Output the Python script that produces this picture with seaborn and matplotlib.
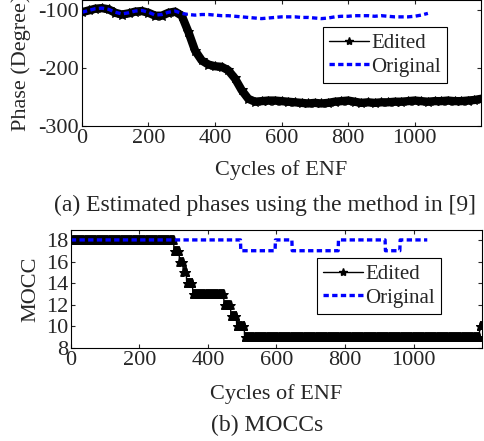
import numpy as np
import pandas as pd
import matplotlib
matplotlib.use('Agg')
import matplotlib.pyplot as plt
import seaborn as sns
from matplotlib.lines import Line2D

# (a) estimated phases, sampled every 20 cycles
phase_cycles_edited = list(range(0, 1201, 20))
phase_edited = [-104, -101, -98, -97, -99, -105, -108, -106, -103, -102,
                -105, -110, -110, -105, -103, -110, -138, -170, -187, -194,
                -197, -198, -204, -218, -238, -253, -258, -257, -256, -256,
                -257, -258, -259, -260, -261, -260, -261, -260, -258, -257,
                -256, -258, -260, -259, -260, -259, -259, -258, -258, -257,
                -256, -257, -258, -257, -257, -256, -257, -257, -256, -255,
                -253]
phase_cycles_original = list(range(0, 1041, 20))
phase_original = [-104, -101, -98, -97, -99, -104, -107, -105, -102, -101,
                  -104, -109, -108, -104, -102, -106, -108, -109, -108, -108,
                  -109, -110, -110, -111, -112, -113, -114, -115, -114, -113,
                  -112, -112, -112, -113, -113, -114, -115, -114, -112, -111,
                  -111, -110, -110, -110, -111, -110, -111, -112, -112, -112,
                  -111, -109, -106]

# (b) MOCC values, one per cycle, given as levels and run lengths
mocc_edited_levels = [18, 17, 16, 15, 14, 13, 12, 11, 10, 9, 10]
mocc_edited_runs = [301, 16, 11, 10, 18, 91, 20, 17, 23, 686, 8]
mocc_original_levels = [18, 17, 18, 17, 18, 17, 18]
mocc_original_runs = [496, 101, 49, 135, 137, 43, 80]

mocc_edited = np.repeat(mocc_edited_levels, mocc_edited_runs)
mocc_original = np.repeat(mocc_original_levels, mocc_original_runs)

sns.set_style("ticks")
plt.rcParams['font.family'] = ['Liberation Serif', 'DejaVu Serif']
plt.rcParams['axes.unicode_minus'] = False
plt.rcParams['xtick.direction'] = 'in'
plt.rcParams['ytick.direction'] = 'in'
plt.rcParams['xtick.top'] = True
plt.rcParams['ytick.right'] = True

fig = plt.figure(figsize=(4.85, 4.41), dpi=100)
ax1 = fig.add_axes([0.169, 0.714, 0.823, 0.286])
ax2 = fig.add_axes([0.146, 0.211, 0.848, 0.267])

blue = '#0000ff'
tick_fs = 16
label_fs = 16
legend_fs = 15
caption_fs = 17
dots = (0, (1.6, 1.0))

# top panel
sns.lineplot(x=phase_cycles_edited, y=phase_edited, ax=ax1, color='black',
             lw=6, marker='*', markersize=7, markeredgecolor='black')
sns.lineplot(x=phase_cycles_original, y=phase_original, ax=ax1, color=blue,
             lw=2.4, linestyle=dots)
ax1.set_xlim(0, 1200)
ax1.set_ylim(-300, -83)
ax1.set_xticks([0, 200, 400, 600, 800, 1000])
ax1.set_yticks([-300, -200, -100])
ax1.set_xlabel('Cycles of ENF', fontsize=label_fs, labelpad=9)
ax1.set_ylabel('Phase (Degree)', fontsize=label_fs, labelpad=5)

# bottom panel
sns.lineplot(x=np.arange(len(mocc_edited)), y=mocc_edited, ax=ax2,
             color='black', lw=1, marker='*', markersize=6.5,
             markeredgecolor='black', markeredgewidth=0.6)
sns.lineplot(x=np.arange(len(mocc_original)), y=mocc_original, ax=ax2,
             color=blue, lw=2.4, linestyle=dots)
ax2.set_xlim(0, 1200)
ax2.set_ylim(8, 18.9)
ax2.set_xticks([0, 200, 400, 600, 800, 1000])
ax2.set_yticks([8, 10, 12, 14, 16, 18])
ax2.set_xlabel('Cycles of ENF', fontsize=label_fs, labelpad=10)
ax2.set_ylabel('MOCC', fontsize=label_fs, labelpad=4)

handles = [Line2D([], [], color='black', lw=1, marker='*', markersize=6),
           Line2D([], [], color=blue, lw=2.4, linestyle=dots)]
for ax, anchor in [(ax1, (0.604, 0.786)), (ax2, (0.599, 0.763))]:
    ax.tick_params(labelsize=tick_fs, length=3, width=0.8, pad=2)
    for s in ax.spines.values():
        s.set_linewidth(0.8)
        s.set_color('black')
    leg = ax.legend(handles, ['Edited', 'Original'], loc='upper left',
                    bbox_to_anchor=anchor, fontsize=legend_fs, fancybox=False,
                    framealpha=1, edgecolor='black', handlelength=1.9,
                    handletextpad=0.1, borderpad=0.3, labelspacing=0.2,
                    borderaxespad=0)
    leg.get_frame().set_linewidth(0.8)

fig.text(0.546, 0.535, '(a) Estimated phases using the method in [9]',
         ha='center', va='center', fontsize=caption_fs)
fig.text(0.55, 0.036, '(b) MOCCs', ha='center', va='center',
         fontsize=caption_fs)

fig.savefig('out.png', dpi=100)
